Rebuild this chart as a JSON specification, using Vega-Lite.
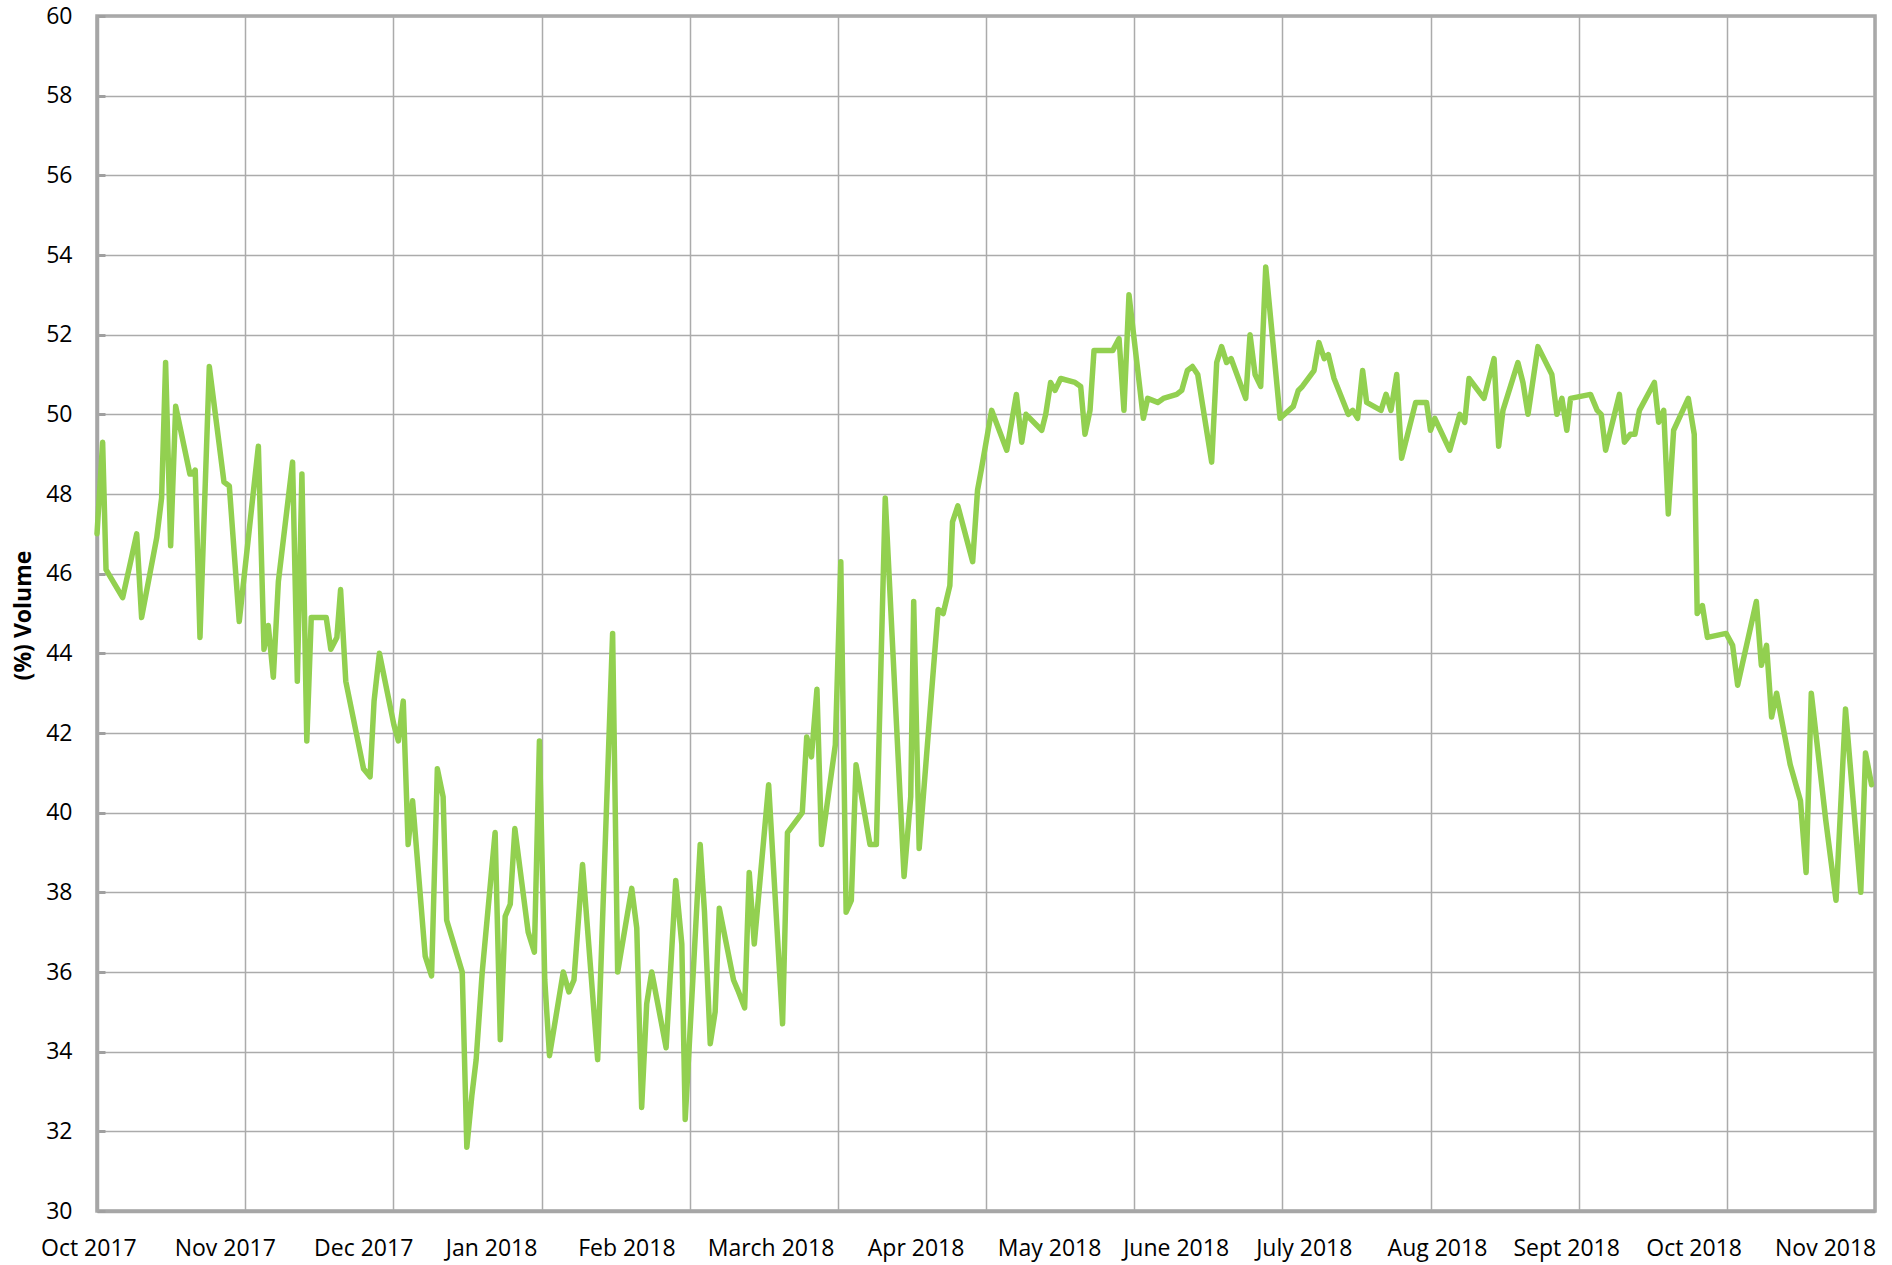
{
  "$schema": "https://vega.github.io/schema/vega-lite/v6.json",
  "width": 1778,
  "height": 1195,
  "autosize": {"type": "none"},
  "padding": {"left": 97, "top": 16, "right": 17, "bottom": 54},
  "background": "white",
  "config": {"view": {"stroke": "#a6a6a6", "strokeWidth": 3.5}, "font": "Open Sans"},
  "layer": [
    {
      "data": {"values": [
        {"m":0.000,"volume":47.0},{"m":0.038,"volume":49.3},{"m":0.061,"volume":46.1},{"m":0.173,"volume":45.4},{"m":0.227,"volume":46.3},{"m":0.268,"volume":47.0},{"m":0.301,"volume":44.9},{"m":0.403,"volume":46.9},{"m":0.436,"volume":47.9},{"m":0.463,"volume":51.3},{"m":0.497,"volume":46.7},{"m":0.531,"volume":50.2},{"m":0.627,"volume":48.5},{"m":0.645,"volume":48.5},{"m":0.663,"volume":48.6},{"m":0.695,"volume":44.4},{"m":0.758,"volume":51.2},{"m":0.857,"volume":48.3},{"m":0.893,"volume":48.2},{"m":0.960,"volume":44.8},
        {"m":1.089,"volume":49.2},{"m":1.127,"volume":44.1},{"m":1.156,"volume":44.7},{"m":1.190,"volume":43.4},{"m":1.224,"volume":45.8},{"m":1.320,"volume":48.8},{"m":1.352,"volume":43.3},{"m":1.383,"volume":48.5},{"m":1.416,"volume":41.8},{"m":1.446,"volume":44.9},{"m":1.547,"volume":44.9},{"m":1.578,"volume":44.1},{"m":1.619,"volume":44.4},{"m":1.644,"volume":45.6},{"m":1.679,"volume":43.3},{"m":1.799,"volume":41.1},{"m":1.843,"volume":40.9},{"m":1.870,"volume":42.8},{"m":1.906,"volume":44.0},
        {"m":2.004,"volume":42.2},{"m":2.034,"volume":41.8},{"m":2.067,"volume":42.8},{"m":2.100,"volume":39.2},{"m":2.130,"volume":40.3},{"m":2.215,"volume":36.4},{"m":2.258,"volume":35.9},{"m":2.297,"volume":41.1},{"m":2.336,"volume":40.4},{"m":2.360,"volume":37.3},{"m":2.465,"volume":36.0},{"m":2.496,"volume":31.6},{"m":2.530,"volume":32.9},{"m":2.559,"volume":33.8},{"m":2.600,"volume":36.0},{"m":2.687,"volume":39.5},{"m":2.722,"volume":34.3},{"m":2.755,"volume":37.4},{"m":2.789,"volume":37.7},{"m":2.820,"volume":39.6},{"m":2.910,"volume":37.0},{"m":2.952,"volume":36.5},{"m":2.986,"volume":41.8},
        {"m":3.022,"volume":35.8},{"m":3.054,"volume":33.9},{"m":3.147,"volume":36.0},{"m":3.185,"volume":35.5},{"m":3.219,"volume":35.8},{"m":3.277,"volume":38.7},{"m":3.379,"volume":33.8},{"m":3.480,"volume":44.5},{"m":3.514,"volume":36.0},{"m":3.609,"volume":38.1},{"m":3.643,"volume":37.1},{"m":3.676,"volume":32.6},{"m":3.710,"volume":35.2},{"m":3.744,"volume":36.0},{"m":3.841,"volume":34.1},{"m":3.906,"volume":38.3},{"m":3.947,"volume":36.7},{"m":3.970,"volume":32.3},
        {"m":4.071,"volume":39.2},{"m":4.100,"volume":37.5},{"m":4.139,"volume":34.2},{"m":4.172,"volume":35.0},{"m":4.200,"volume":37.6},{"m":4.296,"volume":35.8},{"m":4.330,"volume":35.5},{"m":4.371,"volume":35.1},{"m":4.402,"volume":38.5},{"m":4.436,"volume":36.7},{"m":4.533,"volume":40.7},{"m":4.627,"volume":34.7},{"m":4.660,"volume":39.5},{"m":4.760,"volume":40.0},{"m":4.790,"volume":41.9},{"m":4.822,"volume":41.4},{"m":4.859,"volume":43.1},{"m":4.890,"volume":39.2},{"m":4.983,"volume":41.7},
        {"m":5.020,"volume":46.3},{"m":5.056,"volume":37.5},{"m":5.091,"volume":37.8},{"m":5.123,"volume":41.2},{"m":5.217,"volume":39.2},{"m":5.260,"volume":39.2},{"m":5.320,"volume":47.9},{"m":5.447,"volume":38.4},{"m":5.492,"volume":40.4},{"m":5.512,"volume":45.3},{"m":5.549,"volume":39.1},{"m":5.677,"volume":45.1},{"m":5.711,"volume":45.0},{"m":5.756,"volume":45.7},{"m":5.774,"volume":47.3},{"m":5.810,"volume":47.7},{"m":5.910,"volume":46.3},{"m":5.943,"volume":48.1},{"m":5.968,"volume":48.6},
        {"m":6.038,"volume":50.1},{"m":6.140,"volume":49.1},{"m":6.205,"volume":50.5},{"m":6.241,"volume":49.3},{"m":6.270,"volume":50.0},{"m":6.376,"volume":49.6},{"m":6.403,"volume":50.0},{"m":6.436,"volume":50.8},{"m":6.466,"volume":50.6},{"m":6.504,"volume":50.9},{"m":6.601,"volume":50.8},{"m":6.639,"volume":50.7},{"m":6.668,"volume":49.5},{"m":6.702,"volume":50.1},{"m":6.729,"volume":51.6},{"m":6.855,"volume":51.6},{"m":6.898,"volume":51.9},{"m":6.931,"volume":50.1},{"m":6.965,"volume":53.0},
        {"m":7.062,"volume":49.9},{"m":7.091,"volume":50.4},{"m":7.159,"volume":50.3},{"m":7.197,"volume":50.4},{"m":7.287,"volume":50.5},{"m":7.321,"volume":50.6},{"m":7.359,"volume":51.1},{"m":7.393,"volume":51.2},{"m":7.429,"volume":51.0},{"m":7.523,"volume":48.8},{"m":7.557,"volume":51.3},{"m":7.590,"volume":51.7},{"m":7.624,"volume":51.3},{"m":7.654,"volume":51.4},{"m":7.753,"volume":50.4},{"m":7.782,"volume":52.0},{"m":7.816,"volume":51.0},{"m":7.854,"volume":50.7},{"m":7.888,"volume":53.7},{"m":7.985,"volume":49.9},
        {"m":8.074,"volume":50.2},{"m":8.108,"volume":50.6},{"m":8.135,"volume":50.7},{"m":8.214,"volume":51.1},{"m":8.247,"volume":51.8},{"m":8.283,"volume":51.4},{"m":8.310,"volume":51.5},{"m":8.349,"volume":50.9},{"m":8.445,"volume":50.0},{"m":8.475,"volume":50.1},{"m":8.508,"volume":49.9},{"m":8.542,"volume":51.1},{"m":8.569,"volume":50.3},{"m":8.666,"volume":50.1},{"m":8.700,"volume":50.5},{"m":8.733,"volume":50.1},{"m":8.772,"volume":51.0},{"m":8.805,"volume":48.9},{"m":8.900,"volume":50.3},{"m":8.973,"volume":50.3},
        {"m":9.000,"volume":49.6},{"m":9.029,"volume":49.9},{"m":9.130,"volume":49.1},{"m":9.198,"volume":50.0},{"m":9.231,"volume":49.8},{"m":9.260,"volume":50.9},{"m":9.361,"volume":50.4},{"m":9.429,"volume":51.4},{"m":9.460,"volume":49.2},{"m":9.489,"volume":50.1},{"m":9.590,"volume":51.3},{"m":9.624,"volume":50.8},{"m":9.658,"volume":50.0},{"m":9.725,"volume":51.7},{"m":9.819,"volume":51.0},{"m":9.853,"volume":50.0},{"m":9.887,"volume":50.4},{"m":9.920,"volume":49.6},{"m":9.945,"volume":50.4},
        {"m":10.080,"volume":50.5},{"m":10.125,"volume":50.1},{"m":10.152,"volume":50.0},{"m":10.182,"volume":49.1},{"m":10.275,"volume":50.5},{"m":10.309,"volume":49.3},{"m":10.349,"volume":49.5},{"m":10.380,"volume":49.5},{"m":10.410,"volume":50.1},{"m":10.511,"volume":50.8},{"m":10.540,"volume":49.8},{"m":10.574,"volume":50.1},{"m":10.605,"volume":47.5},{"m":10.641,"volume":49.6},{"m":10.740,"volume":50.4},{"m":10.780,"volume":49.5},{"m":10.800,"volume":45.0},{"m":10.835,"volume":45.2},{"m":10.869,"volume":44.4},{"m":10.995,"volume":44.5},
        {"m":11.039,"volume":44.2},{"m":11.073,"volume":43.2},{"m":11.199,"volume":45.3},{"m":11.233,"volume":43.7},{"m":11.268,"volume":44.2},{"m":11.302,"volume":42.4},{"m":11.336,"volume":43.0},{"m":11.428,"volume":41.2},{"m":11.497,"volume":40.3},{"m":11.535,"volume":38.5},{"m":11.570,"volume":43.0},{"m":11.668,"volume":39.8},{"m":11.737,"volume":37.8},{"m":11.801,"volume":42.6},{"m":11.904,"volume":38.0},{"m":11.936,"volume":41.5},{"m":11.977,"volume":40.7}
      ]},
      "mark": {"type": "line", "color": "#92d050", "strokeWidth": 5.5, "strokeJoin": "round", "strokeCap": "round"},
      "encoding": {
        "x": {
          "field": "m", "type": "quantitative",
          "scale": {"domain": [0, 12], "nice": false, "zero": false},
          "axis": {
            "values": [0,1,2,3,4,5,6,7,8,9,10,11,12],
            "grid": true, "gridColor": "#ababab", "gridWidth": 1.5,
            "labels": false, "ticks": false,
            "domainColor": "#a6a6a6", "domainWidth": 3.5,
            "title": null
          }
        },
        "y": {
          "field": "volume", "type": "quantitative",
          "scale": {"domain": [30, 60], "nice": false, "zero": false},
          "axis": {
            "values": [30,31,32,33,34,35,36,37,38,39,40,41,42,43,44,45,46,47,48,49,50,51,52,53,54,55,56,57,58,59,60],
            "grid": true, "gridColor": "#ababab", "gridWidth": 1.5,
            "gridOpacity": {"condition": {"test": "datum.value % 2 === 0", "value": 1}, "value": 0},
            "labelExpr": "datum.value % 2 === 0 ? datum.label : ''",
            "tickSize": -8, "tickColor": "#a0a0a0", "tickWidth": 3,
            "labelPadding": 33, "labelFontSize": 23, "labelColor": "#000000", "labelFont": "Open Sans",
            "domainColor": "#a6a6a6", "domainWidth": 3.5,
            "title": "(%) Volume", "titleFontSize": 23, "titleFontWeight": "bold", "titleColor": "#000000", "titleFont": "Open Sans",
            "titleX": -74, "titleY": 599, "titleAngle": 270, "titleAlign": "center", "titleBaseline": "middle"
          }
        }
      }
    },
    {
      "data": {"values": [
        {"label": "Oct 2017", "pos": -0.055},
        {"label": "Nov 2017", "pos": 0.866},
        {"label": "Dec 2017", "pos": 1.800},
        {"label": "Jan 2018", "pos": 2.663},
        {"label": "Feb 2018", "pos": 3.576},
        {"label": "March 2018", "pos": 4.549},
        {"label": "Apr 2018", "pos": 5.528},
        {"label": "May 2018", "pos": 6.429},
        {"label": "June 2018", "pos": 7.283},
        {"label": "July 2018", "pos": 8.148},
        {"label": "Aug 2018", "pos": 9.047},
        {"label": "Sept 2018", "pos": 9.919},
        {"label": "Oct 2018", "pos": 10.779},
        {"label": "Nov 2018", "pos": 11.667}
      ]},
      "mark": {"type": "text", "fontSize": 23, "font": "Open Sans", "color": "#000000", "baseline": "alphabetic", "align": "center", "dy": 45},
      "encoding": {
        "x": {"field": "pos", "type": "quantitative", "scale": {"domain": [0, 12], "nice": false, "zero": false}},
        "y": {"datum": 30},
        "text": {"field": "label"}
      }
    }
  ]
}
